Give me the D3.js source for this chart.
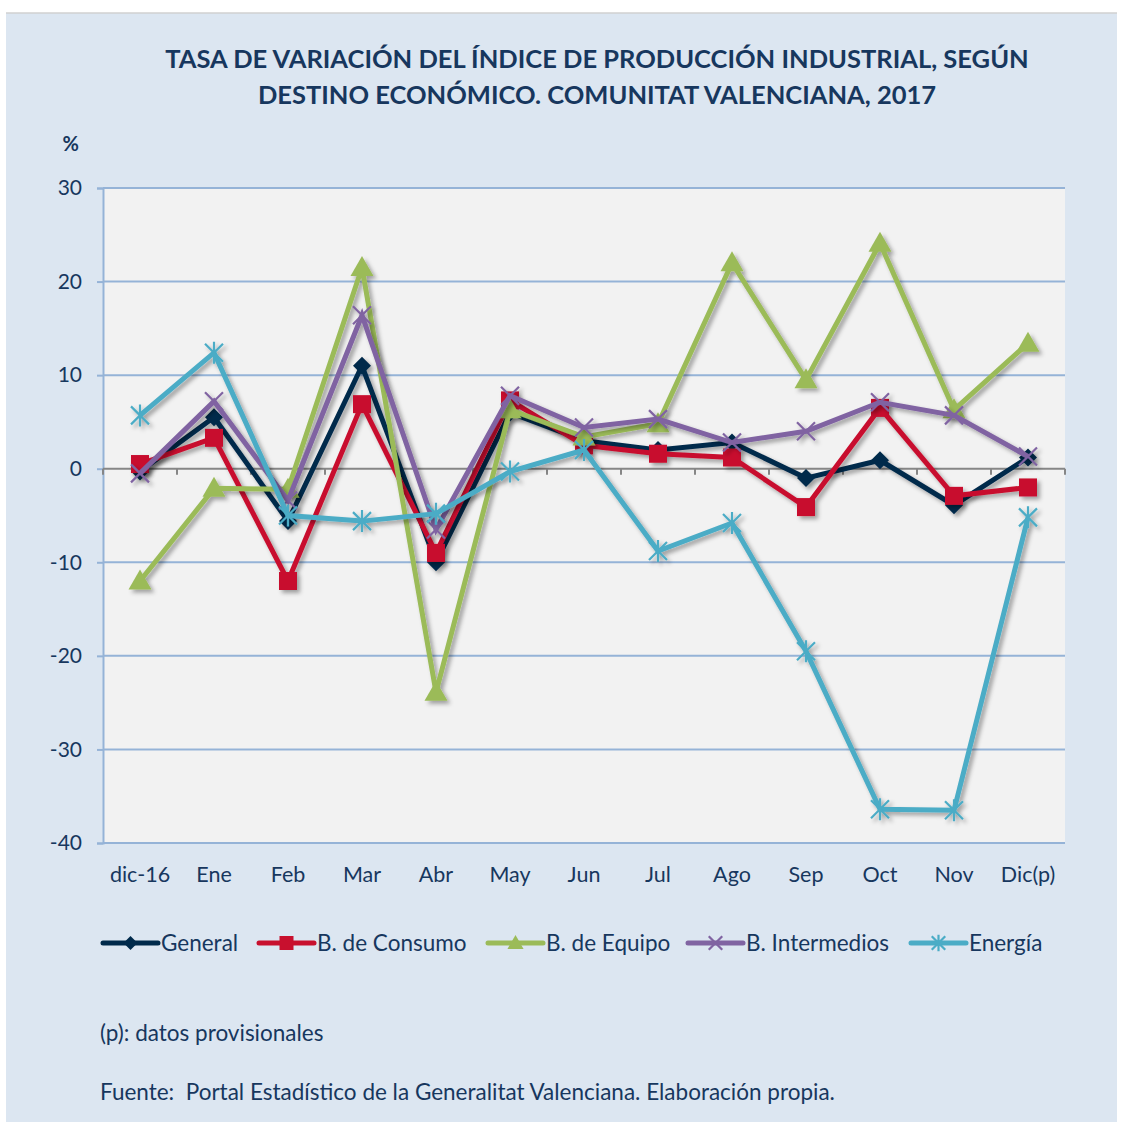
<!DOCTYPE html>
<head>
<meta charset="UTF-8">
<script src="https://d3js.org/d3.v7.min.js"></script>
<style>
  body { margin: 0; background: #fff; }
  text { font-family: Lato, "Open Sans", sans-serif; fill: #17375e; }
</style>
</head>
<body>
<div id="my_dataviz"></div>
<script>

// data
var months = ["dic-16", "Ene", "Feb", "Mar", "Abr", "May", "Jun", "Jul", "Ago", "Sep", "Oct", "Nov", "Dic(p)"];
var general     = [-0.3, 5.5, -5.6, 11.0, -10.0, 6.0, 3.0, 2.0, 2.8, -1.0, 0.9, -3.9, 1.2];
var consumo     = [0.5, 3.3, -12.0, 6.9, -9.0, 7.3, 2.5, 1.6, 1.2, -4.1, 6.5, -2.9, -2.0];
var equipo      = [-12.0, -2.1, -2.2, 21.5, -23.9, 6.3, 3.4, 4.8, 22.0, 9.5, 24.1, 6.3, 13.4];
var intermedios = [-0.5, 7.2, -3.4, 16.4, -6.5, 7.8, 4.4, 5.3, 2.8, 4.0, 7.1, 5.7, 1.3];
var energia     = [5.7, 12.4, -5.0, -5.6, -4.8, -0.3, 2.0, -8.8, -5.8, -19.5, -36.4, -36.5, -5.2];
var yTicks = [30, 20, 10, 0, -10, -20, -30, -40];

var series = [
  {name: "General", values: general, color: "#002a4b", marker: "diamond"},
  {name: "B. de Consumo", values: consumo, color: "#c8102e", marker: "square"},
  {name: "B. de Equipo", values: equipo, color: "#9bbb59", marker: "triangle"},
  {name: "B. Intermedios", values: intermedios, color: "#8064a2", marker: "cross"},
  {name: "Energía", values: energia, color: "#4bacc6", marker: "star"}
];

var W = 1121, H = 1122;
var svg = d3.select("#my_dataviz")
  .append("svg")
    .attr("width", W)
    .attr("height", H);

var defs = svg.append("defs");
var f = defs.append("filter").attr("id", "shadow")
  .attr("x", "-20%").attr("y", "-20%").attr("width", "140%").attr("height", "140%");
f.append("feDropShadow")
  .attr("dx", 3).attr("dy", 3).attr("stdDeviation", 2)
  .attr("flood-color", "#000").attr("flood-opacity", 0.35);

// panel background
svg.append("rect")
  .attr("x", 6).attr("y", 13).attr("width", 1111).attr("height", H - 13)
  .attr("fill", "#dce6f1");
svg.append("line")
  .attr("x1", 6).attr("x2", 1117).attr("y1", 13).attr("y2", 13)
  .attr("stroke", "#d0d0d0").attr("stroke-width", 1.5);

var plot = {left: 103, right: 1065, top: 188, bottom: 843};

var x = d3.scaleBand()
  .domain(months)
  .range([plot.left, plot.right]);

var y = d3.scaleLinear()
  .domain([-40, 30])
  .range([plot.bottom, plot.top]);

// plot area
svg.append("rect")
  .attr("x", plot.left).attr("y", plot.top)
  .attr("width", plot.right - plot.left).attr("height", plot.bottom - plot.top)
  .attr("fill", "#f2f2f2");

// gridlines + y axis
var yAxis = svg.append("g")
  .attr("transform", "translate(" + plot.left + ",0)")
  .call(d3.axisLeft(y).tickValues(yTicks).tickSize(6).tickPadding(15)
    .tickFormat(function(d) { return String(d); }));
yAxis.select(".domain").attr("stroke", "#95b3d7").attr("stroke-width", 2);
yAxis.selectAll(".tick line").attr("stroke", "#95b3d7").attr("stroke-width", 2);
yAxis.selectAll(".tick text")
  .style("font-size", "21px").style("font-family", "Lato, 'Open Sans', sans-serif")
  .attr("fill", "#17375e");

svg.append("g")
  .selectAll("line")
  .data(yTicks.filter(function(d) { return d !== 0; }))
  .enter()
  .append("line")
    .attr("x1", plot.left).attr("x2", plot.right)
    .attr("y1", function(d) { return y(d); })
    .attr("y2", function(d) { return y(d); })
    .attr("stroke", "#95b3d7").attr("stroke-width", 2);

// zero axis with ticks at band edges
var xAxis = svg.append("g")
  .attr("transform", "translate(0," + y(0) + ")");
xAxis.append("line")
  .attr("x1", plot.left).attr("x2", plot.right)
  .attr("stroke", "#868686").attr("stroke-width", 2);
xAxis.selectAll(".xt")
  .data(months.concat(["end"]))
  .enter()
  .append("line")
    .attr("x1", function(d, i) { return plot.left + i * x.step(); })
    .attr("x2", function(d, i) { return plot.left + i * x.step(); })
    .attr("y1", 0).attr("y2", 6)
    .attr("stroke", "#868686").attr("stroke-width", 2);

// month labels
svg.append("g")
  .selectAll("text")
  .data(months)
  .enter()
  .append("text")
    .attr("x", function(d) { return x(d) + x.bandwidth() / 2; })
    .attr("y", 882)
    .attr("text-anchor", "middle")
    .style("font-size", "21.5px")
    .text(function(d) { return d; });

// markers
function drawMarker(g, type, color, s) {
  if (type === "diamond") {
    g.append("path").attr("d", "M0," + (-s) + "L" + s + ",0L0," + s + "L" + (-s) + ",0Z").attr("fill", color);
  } else if (type === "square") {
    g.append("rect").attr("x", -s).attr("y", -s).attr("width", 2 * s).attr("height", 2 * s).attr("fill", color);
  } else if (type === "triangle") {
    g.append("path").attr("d", "M0," + (-s * 1.15) + "L" + (s * 1.15) + "," + (s * 0.85) + "L" + (-s * 1.15) + "," + (s * 0.85) + "Z").attr("fill", color);
  } else if (type === "cross") {
    var c = s * 0.9;
    g.append("path").attr("d", "M" + (-c) + "," + (-c) + "L" + c + "," + c + "M" + (-c) + "," + c + "L" + c + "," + (-c))
      .attr("stroke", color).attr("stroke-width", 2.2).attr("fill", "none");
  } else if (type === "star") {
    var c = s * 0.9;
    g.append("path").attr("d", "M" + (-c) + "," + (-c) + "L" + c + "," + c + "M" + (-c) + "," + c + "L" + c + "," + (-c) + "M0," + (-s * 1.1) + "L0," + (s * 1.1))
      .attr("stroke", color).attr("stroke-width", 2.2).attr("fill", "none");
  }
}

var markerSize = {diamond: 9, square: 9, triangle: 10, cross: 10, star: 10};

var line = d3.line()
  .x(function(d, i) { return x(months[i]) + x.bandwidth() / 2; })
  .y(function(d) { return y(d); });

series.forEach(function(s) {
  var g = svg.append("g").attr("filter", "url(#shadow)");
  g.append("path")
    .datum(s.values)
    .attr("d", line)
    .attr("fill", "none")
    .attr("stroke", s.color)
    .attr("stroke-width", 5)
    .attr("stroke-linejoin", "miter");
  s.values.forEach(function(v, i) {
    var m = g.append("g")
      .attr("transform", "translate(" + (x(months[i]) + x.bandwidth() / 2) + "," + y(v) + ")");
    drawMarker(m, s.marker, s.color, markerSize[s.marker]);
  });
});

// title
svg.append("text")
  .attr("x", 597).attr("y", 68)
  .attr("text-anchor", "middle")
  .style("font-size", "25.5px").style("font-weight", "bold")
  .text("TASA DE VARIACIÓN DEL ÍNDICE DE PRODUCCIÓN INDUSTRIAL, SEGÚN");
svg.append("text")
  .attr("x", 597).attr("y", 104)
  .attr("text-anchor", "middle")
  .style("font-size", "25.5px").style("font-weight", "bold")
  .text("DESTINO ECONÓMICO. COMUNITAT VALENCIANA, 2017");

svg.append("text")
  .attr("x", 79).attr("y", 151)
  .attr("text-anchor", "end")
  .style("font-size", "20px").style("font-weight", "bold")
  .text("%");

// legend
var legendX = [103, 259, 488, 688, 911];
series.forEach(function(s, i) {
  var g = svg.append("g").attr("transform", "translate(" + legendX[i] + ",943)");
  g.append("line").attr("x1", 0).attr("x2", 55)
    .attr("stroke", s.color).attr("stroke-width", 5).attr("stroke-linecap", "round");
  var m = g.append("g").attr("transform", "translate(27.5,0)");
  drawMarker(m, s.marker, s.color, s.marker === "cross" || s.marker === "star" ? 7.5 : 7);
  g.append("text").attr("x", 58).attr("y", 8)
    .style("font-size", "22.5px")
    .text(s.name);
});

// notes
svg.append("text")
  .attr("x", 100).attr("y", 1041)
  .style("font-size", "22.5px")
  .text("(p): datos provisionales");
svg.append("text")
  .attr("x", 100).attr("y", 1100)
  .style("font-size", "22.5px")
  .attr("xml:space", "preserve")
  .text("Fuente:  Portal Estadístico de la Generalitat Valenciana. Elaboración propia.");

</script>
</body>
